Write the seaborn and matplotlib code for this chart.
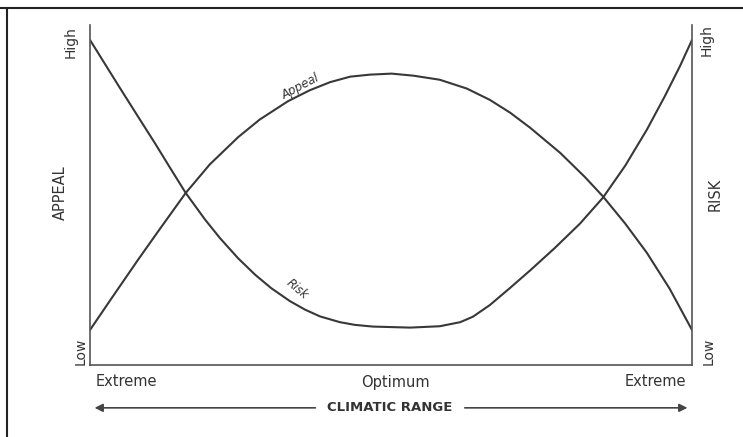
"""
Climatic range: appeal vs risk (schematic)
"""
import matplotlib
matplotlib.use('Agg')
import matplotlib.pyplot as plt
from matplotlib.lines import Line2D
import pandas as pd
import seaborn as sns

# ========== data (0-100 scales) ==========
appeal_x = [0, 3.3, 8.0, 11.6, 15.9, 19.9, 24.6, 28.2, 32.9, 36.5, 39.9, 43.2,
            46.5, 50.1, 53.7, 58.1, 62.6, 66.4, 69.8, 73.1, 78.1, 82.2, 85.2,
            88.9, 92.5, 96.3, 100]
appeal_y = [10.3, 18.9, 31.0, 40.0, 50.6, 59.0, 67.0, 72.2, 77.6, 80.8, 83.2, 84.8,
            85.4, 85.7, 85.1, 83.9, 81.3, 78.0, 74.2, 69.8, 62.4, 55.3, 49.6,
            41.6, 33.0, 22.4, 10.3]

risk_x = [0, 2.5, 5.0, 8.0, 10.8, 13.3, 15.9, 19.1, 21.6, 24.6, 27.4, 30.1,
          33.2, 35.7, 38.2, 41.5, 44.0, 47.0, 53.2, 58.1, 61.5, 63.6, 66.4, 69.8,
          73.1, 77.2, 81.4, 85.2, 88.9, 92.5, 95.5, 98.0, 100]
risk_y = [95.6, 88.5, 81.4, 73.0, 65.2, 58.0, 50.6, 42.8, 37.3, 31.4, 26.6, 22.6,
          18.8, 16.3, 14.3, 12.6, 11.8, 11.3, 11.0, 11.4, 12.6, 14.2, 17.6, 22.7,
          27.8, 34.4, 41.6, 49.2, 58.6, 69.2, 79.1, 87.9, 95.6]

range_labels = ['Extreme', 'Optimum', 'Extreme']
range_pos = [0.06, 0.508, 0.9385]

df = pd.concat([
    pd.DataFrame({'x': appeal_x, 'y': appeal_y, 'curve': 'Appeal'}),
    pd.DataFrame({'x': risk_x, 'y': risk_y, 'curve': 'Risk'}),
])

# ========== plot ==========
sns.set_style('white')
plt.rcParams['font.family'] = ['DejaVu Sans']

fig = plt.figure(figsize=(7.43, 4.37), dpi=100)
ax = fig.add_axes([90 / 743, 72 / 437, 602 / 743, 340 / 437])

line_col = '#383838'
text_col = '#333333'
sns.lineplot(data=df, x='x', y='y', hue='curve', palette=[line_col, line_col],
             linewidth=1.5, legend=False, ax=ax, sort=False,
             solid_joinstyle='round', solid_capstyle='round')

ax.set_xlim(0, 100)
ax.set_ylim(0, 100)
ax.set_xticks([])
ax.set_yticks([])
ax.set_xlabel('')
ax.set_ylabel('')
ax.spines['top'].set_visible(False)
for s in ['left', 'right', 'bottom']:
    ax.spines[s].set_color('#555555')
    ax.spines[s].set_linewidth(1.2)

# curve labels
ax.text(34.9, 82.0, 'Appeal', rotation=28, ha='center', va='center',
        fontsize=8.5, style='italic', color=text_col)
ax.text(34.4, 22.4, 'Risk', rotation=-40, ha='center', va='center',
        fontsize=8.5, style='italic', color=text_col)

# axis annotations
tr = ax.transAxes
ax.text(-0.0316, 0.95, 'High', rotation=90, ha='center', va='center',
        fontsize=10, color=text_col, transform=tr)
ax.text(-0.015, 0.041, 'Low', rotation=90, ha='center', va='center',
        fontsize=10, color=text_col, transform=tr)
ax.text(-0.05, 0.506, 'APPEAL', rotation=90, ha='center', va='center',
        fontsize=10.5, color=text_col, transform=tr)
ax.text(1.024, 0.956, 'High', rotation=90, ha='center', va='center',
        fontsize=10, color=text_col, transform=tr)
ax.text(1.028, 0.04, 'Low', rotation=90, ha='center', va='center',
        fontsize=10, color=text_col, transform=tr)
ax.text(1.038, 0.503, 'RISK', rotation=90, ha='center', va='center',
        fontsize=10.5, color=text_col, transform=tr)

for lab, xp in zip(range_labels, range_pos):
    ax.text(xp, -0.05, lab, ha='center', va='center', fontsize=10.5,
            color=text_col, transform=tr)

ax.text(0.498, -0.126, 'CLIMATIC RANGE', ha='center', va='center',
        fontsize=9.5, fontweight='bold', color=text_col, transform=tr)

arrow_kw = dict(arrowstyle='-|>', color='#444444', lw=1.2, mutation_scale=12)
ax.annotate('', xy=(0.003, -0.126), xytext=(0.379, -0.126), xycoords=tr,
            textcoords=tr, arrowprops=arrow_kw, annotation_clip=False)
ax.annotate('', xy=(0.997, -0.126), xytext=(0.618, -0.126), xycoords=tr,
            textcoords=tr, arrowprops=arrow_kw, annotation_clip=False)

# frame remnants (top and left edges of the scanned figure)
fig.add_artist(Line2D([0, 1], [1 - 7.5 / 437] * 2, transform=fig.transFigure,
                      color='#222222', lw=1.5))
fig.add_artist(Line2D([7 / 743] * 2, [0, 1 - 7.5 / 437], transform=fig.transFigure,
                      color='#222222', lw=1.5))

plt.savefig('out.png', dpi=100)
print('saved out.png')
